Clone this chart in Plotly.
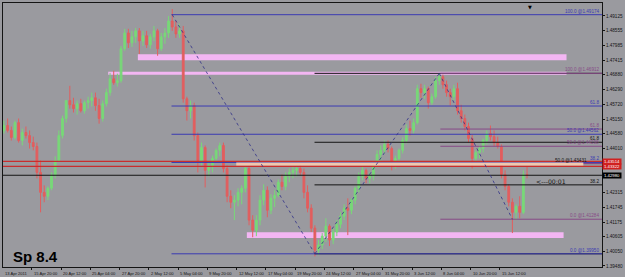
import plotly.graph_objects as go

# ---------------- data (H4 chart, sampled every 8 hours) ----------------
opens = [1.4471,1.4490,1.4471,1.4444,1.4501,1.4432,1.4463,1.4451,1.4424,1.4409,
         1.4309,1.4232,1.4217,1.4248,1.4298,1.4355,1.4451,1.4517,1.4586,1.4570,
         1.4555,1.4574,1.4547,1.4578,1.4586,1.4597,1.4567,1.4517,1.4574,1.4617,
         1.4670,1.4655,1.4663,1.4786,1.4847,1.4809,1.4832,1.4855,1.4816,1.4836,
         1.4801,1.4832,1.4855,1.4786,1.4832,1.4847,1.4893,1.4870,1.4843,1.4855,
         1.4593,1.4547,1.4567,1.4451,1.4355,1.4405,1.4317,1.4336,1.4363,1.4394,
         1.4413,1.4324,1.4217,1.4194,1.4202,1.4232,1.4248,1.4324,1.4125,1.4086,
         1.4125,1.4202,1.4240,1.4163,1.4209,1.4221,1.4271,1.4255,1.4294,1.4309,
         1.4317,1.4324,1.4309,1.4232,1.4171,1.4094,1.4009,1.4029,1.4063,1.4102,
         1.4048,1.4079,1.4109,1.4140,1.4171,1.4163,1.4202,1.4248,1.4294,1.4317,
         1.4286,1.4294,1.4340,1.4378,1.4394,1.4417,1.4401,1.4340,1.4363,1.4394,
         1.4432,1.4478,1.4471,1.4501,1.4632,1.4617,1.4632,1.4578,1.4601,1.4663,
         1.4678,1.4647,1.4617,1.4601,1.4632,1.4547,1.4517,1.4486,1.4440,1.4363,
         1.4386,1.4401,1.4432,1.4459,1.4447,1.4424,1.4409,1.4301,1.4255,1.4194,
         1.4155,1.4178,1.4155,1.4301]
highs = [1.4509,1.4517,1.4486,1.4509,1.4517,1.4478,1.4486,1.4471,1.4447,1.4424,
         1.4355,1.4259,1.4255,1.4309,1.4371,1.4471,1.4528,1.4586,1.4643,1.4597,
         1.4586,1.4593,1.4586,1.4601,1.4617,1.4617,1.4593,1.4586,1.4632,1.4693,
         1.4701,1.4690,1.4797,1.4863,1.4863,1.4855,1.4866,1.4866,1.4855,1.4855,
         1.4843,1.4874,1.4863,1.4847,1.4866,1.4912,1.4939,1.4893,1.4882,1.4874,
         1.4601,1.4586,1.4578,1.4463,1.4424,1.4413,1.4355,1.4374,1.4401,1.4424,
         1.4424,1.4336,1.4240,1.4221,1.4248,1.4259,1.4336,1.4336,1.4144,1.4144,
         1.4221,1.4263,1.4255,1.4225,1.4240,1.4282,1.4301,1.4309,1.4324,1.4332,
         1.4336,1.4340,1.4324,1.4259,1.4186,1.4105,1.4048,1.4075,1.4132,1.4109,
         1.4094,1.4125,1.4155,1.4186,1.4209,1.4209,1.4255,1.4309,1.4332,1.4324,
         1.4309,1.4355,1.4394,1.4413,1.4432,1.4432,1.4409,1.4374,1.4401,1.4444,
         1.4494,1.4509,1.4517,1.4647,1.4651,1.4647,1.4640,1.4613,1.4678,1.4693,
         1.4686,1.4663,1.4632,1.4647,1.4655,1.4570,1.4532,1.4501,1.4455,1.4394,
         1.4413,1.4440,1.4471,1.4490,1.4471,1.4447,1.4417,1.4317,1.4263,1.4209,
         1.4186,1.4217,1.4317,1.4332]
lows = [1.4459,1.4463,1.4432,1.4436,1.4424,1.4413,1.4440,1.4401,1.4394,1.4286,
        1.4155,1.4194,1.4202,1.4240,1.4286,1.4348,1.4440,1.4501,1.4555,1.4540,
        1.4532,1.4540,1.4536,1.4555,1.4563,1.4547,1.4497,1.4505,1.4563,1.4605,
        1.4647,1.4640,1.4655,1.4778,1.4789,1.4793,1.4809,1.4766,1.4797,1.4789,
        1.4786,1.4816,1.4759,1.4778,1.4805,1.4828,1.4855,1.4828,1.4828,1.4578,
        1.4509,1.4517,1.4432,1.4309,1.4336,1.4251,1.4294,1.4309,1.4348,1.4371,
        1.4309,1.4194,1.4171,1.4125,1.4178,1.4186,1.4232,1.4105,1.4059,1.4063,
        1.4105,1.4182,1.4136,1.4148,1.4175,1.4213,1.4240,1.4240,1.4271,1.4286,
        1.4294,1.4298,1.4209,1.4155,1.4079,1.3985,1.3990,1.4013,1.4040,1.4025,
        1.4032,1.4063,1.4094,1.4125,1.4067,1.4148,1.4186,1.4232,1.4278,1.4267,
        1.4267,1.4278,1.4328,1.4355,1.4382,1.4386,1.4317,1.4324,1.4348,1.4382,
        1.4421,1.4451,1.4459,1.4494,1.4597,1.4593,1.4555,1.4570,1.4593,1.4647,
        1.4632,1.4601,1.4567,1.4586,1.4532,1.4501,1.4471,1.4424,1.4324,1.4344,
        1.4363,1.4386,1.4417,1.4432,1.4409,1.4401,1.4286,1.4240,1.4178,1.4075,
        1.4125,1.4132,1.4148,1.4286]
closes = [1.4490,1.4471,1.4444,1.4501,1.4432,1.4463,1.4451,1.4424,1.4409,1.4309,
          1.4232,1.4217,1.4248,1.4298,1.4355,1.4451,1.4517,1.4586,1.4570,1.4555,
          1.4574,1.4547,1.4578,1.4586,1.4597,1.4567,1.4517,1.4574,1.4617,1.4670,
          1.4655,1.4663,1.4786,1.4847,1.4809,1.4832,1.4855,1.4816,1.4836,1.4801,
          1.4832,1.4855,1.4786,1.4832,1.4847,1.4893,1.4870,1.4843,1.4855,1.4593,
          1.4547,1.4567,1.4451,1.4355,1.4405,1.4317,1.4336,1.4363,1.4394,1.4413,
          1.4324,1.4217,1.4194,1.4202,1.4232,1.4248,1.4324,1.4125,1.4086,1.4125,
          1.4202,1.4240,1.4163,1.4209,1.4221,1.4271,1.4255,1.4294,1.4309,1.4317,
          1.4324,1.4309,1.4232,1.4171,1.4094,1.4009,1.4029,1.4063,1.4102,1.4048,
          1.4079,1.4109,1.4140,1.4171,1.4163,1.4202,1.4248,1.4294,1.4317,1.4286,
          1.4294,1.4340,1.4378,1.4394,1.4417,1.4401,1.4340,1.4363,1.4394,1.4432,
          1.4478,1.4471,1.4501,1.4632,1.4617,1.4632,1.4578,1.4601,1.4663,1.4678,
          1.4647,1.4617,1.4601,1.4632,1.4547,1.4517,1.4486,1.4440,1.4363,1.4386,
          1.4401,1.4432,1.4459,1.4447,1.4424,1.4409,1.4301,1.4255,1.4194,1.4155,
          1.4178,1.4155,1.4301,1.4298]

date_labels = ["13 Apr 2011", "15 Apr 20:00", "20 Apr 12:00", "25 Apr 04:00",
               "27 Apr 20:00", "2 May 12:00", "5 May 04:00", "9 May 20:00",
               "12 May 12:00", "17 May 04:00", "19 May 20:00", "24 May 12:00",
               "27 May 04:00", "31 May 20:00", "3 Jun 12:00", "8 Jun 04:00",
               "10 Jun 20:00", "15 Jun 12:00"]
date_bars = [-0.4, 7.6, 15.6, 23.6, 31.6, 39.6, 47.6, 55.6, 63.6, 71.6,
             79.6, 87.6, 95.6, 103.6, 111.6, 119.6, 127.6, 135.6]

price_ticks = [1.49125, 1.48555, 1.47985, 1.47415, 1.46880, 1.46290, 1.45720,
               1.45150, 1.44580, 1.44010, 1.42315, 1.41745,
               1.41175, 1.40605, 1.40050, 1.39480]

# Fibonacci retracements: (low, high, start bar)
fib_blue = (1.39950, 1.49174, 45.8)
fib_black = (1.39950, 1.46912, 84.9)
fib_purple = (1.41284, 1.46912, 119.3)
fib_levels = [0.0, 38.2, 50.0, 61.8, 100.0]

# horizontal red lines and rectangles (price zones)
red_levels = [1.43514, 1.43322]
zone_x0 = [36.6, 28.5, 66.4]
zone_x1 = [153.8, 153.8, 153.0]
zone_lo = [1.47414, 1.46857, 1.40555]
zone_hi = [1.47645, 1.46972, 1.40786]
band_x = (63.5, 158.4)
band_price = (1.43350, 1.43470)

# dotted trend lines (bar, price)
trend_pts = [(46.0, 1.49174), (85.0, 1.39950), (119.0, 1.46912), (139.0, 1.41284)]

# ---------------- figure ----------------
XMIN, XMAX = -0.27, 163.5
YMIN, YMAX = 1.39441, 1.49625
BG = "#9a9a9f"
BLUE = "#3a3ab2"
PURPLE = "#874a87"
BLACK = "#141414"
RED = "#c82d2d"
FONT = "Liberation Sans, Arial, sans-serif"

fig = go.Figure()
fig.add_trace(go.Candlestick(
    x=list(range(len(closes))), open=opens, high=highs, low=lows, close=closes,
    increasing=dict(line=dict(color="#78d878", width=1), fillcolor="#78d878"),
    decreasing=dict(line=dict(color="#e25e5e", width=1), fillcolor="#e25e5e"),
    whiskerwidth=0, showlegend=False, hoverinfo="skip"))

shapes = []
for x0, x1, lo, hi in zip(zone_x0, zone_x1, zone_lo, zone_hi):
    shapes.append(dict(type="rect", xref="x", yref="y", x0=x0, x1=x1, y0=lo, y1=hi,
                       fillcolor="#f3b6f3", line=dict(width=0), layer="below"))

def fib_lines(fib, color):
    lo, hi, start = fib
    out = []
    for lv in fib_levels:
        p = lo + (hi - lo) * lv / 100.0
        out.append(dict(type="line", xref="x", yref="y", x0=start, x1=XMAX, y0=p, y1=p,
                        line=dict(color=color, width=1)))
    return out

shapes += fib_lines(fib_black, BLACK)
shapes += fib_lines(fib_purple, PURPLE)
shapes += fib_lines(fib_blue, BLUE)
shapes.append(dict(type="rect", xref="x", yref="y", x0=band_x[0], x1=band_x[1],
                   y0=band_price[0], y1=band_price[1], fillcolor="#f0c8ae",
                   line=dict(width=0)))
for p in red_levels:
    shapes.append(dict(type="line", xref="paper", yref="y", x0=0, x1=1, y0=p, y1=p,
                       line=dict(color=RED, width=1.2)))
shapes.append(dict(type="line", xref="paper", yref="y", x0=0, x1=1,
                   y0=closes[-1], y1=closes[-1], line=dict(color=BLACK, width=1)))
for (xa, ya), (xb, yb) in zip(trend_pts[:-1], trend_pts[1:]):
    shapes.append(dict(type="line", xref="x", yref="y", x0=xa, x1=xb, y0=ya, y1=yb,
                       line=dict(color="#303088", width=0.8, dash="dot")))

ann = []
def lab(x, y, text, color, size=4.6, anchor="right"):
    ann.append(dict(x=x, y=y, xref="x", yref="y", text=text, showarrow=False,
                    xanchor=anchor, yanchor="bottom", yshift=-1,
                    font=dict(size=size, color=color, family=FONT)))

def fibp(fib, lv):
    lo, hi, _ = fib
    return lo + (hi - lo) * lv / 100.0

XR = 163.1
lab(XR, fibp(fib_blue, 100), "100.0 @%.5f" % fib_blue[1], BLUE)
lab(XR, fibp(fib_blue, 61.8), "61.8", BLUE)
lab(XR, fibp(fib_blue, 50), "50.0 @%.5f" % fibp(fib_blue, 50), BLUE)
lab(XR, fibp(fib_blue, 38.2), "38.2", BLUE)
lab(XR, fibp(fib_blue, 0), "0.0 @%.5f" % fib_blue[0], BLUE)
lab(XR, fibp(fib_purple, 100), "100.0 @%.5f" % fib_purple[1], PURPLE)
lab(XR, fibp(fib_purple, 61.8), "61.8", PURPLE)
lab(XR, fibp(fib_purple, 50), "50.0 @%.5f" % fibp(fib_purple, 50), PURPLE)
lab(XR, fibp(fib_purple, 0), "0.0 @%.5f" % fib_purple[0], PURPLE)
lab(XR, fibp(fib_black, 61.8), "61.8", BLACK)
lab(160.0, fibp(fib_black, 50), "50.0 @%.5f" % fibp(fib_black, 50), BLACK)
lab(XR, fibp(fib_black, 38.2), "38.2", BLACK)

ann.append(dict(x=144.8, y=1.42745, xref="x", yref="y", text="<---00:01", showarrow=False,
                xanchor="left", yanchor="middle",
                font=dict(size=6.2, color=BLACK, family="DejaVu Sans")))

# right-hand price boxes
for p, bgc in [(red_levels[0], "#d02020"), (red_levels[1], "#d02020"), (closes[-1], "#000000")]:
    ann.append(dict(x=1, y=p, xref="paper", yref="y", text="%.5f" % p, showarrow=False,
                    xanchor="left", yanchor="middle", bgcolor=bgc, borderpad=0,
                    width=18, height=4.6, font=dict(size=4.3, color="white", family=FONT)))

# date labels (left aligned at their tick)
for pos, txt in zip(date_bars, date_labels):
    px = max(0.0, (pos - XMIN) / (XMAX - XMIN))
    ann.append(dict(x=px, y=0, xref="paper", yref="paper", text=txt, showarrow=False,
                    xanchor="left", yanchor="top", xshift=0, yshift=-1.5,
                    font=dict(size=4.1, color=BLACK, family=FONT)))

ann.append(dict(x=0.0135, y=0.04, xref="paper", yref="paper", text="<b>Sp 8.4</b>",
                showarrow=False, xanchor="left", yanchor="middle",
                font=dict(size=15, color="black", family=FONT)))
ann.append(dict(x=143.7, y=1.0, xref="x", yref="paper", text="\u25bc", showarrow=False,
                xanchor="center", yanchor="top", yshift=1,
                font=dict(size=5, color="black", family="DejaVu Sans")))

fig.update_layout(
    width=625, height=277,
    margin=dict(l=2, r=19, t=2, b=10),
    paper_bgcolor=BG, plot_bgcolor=BG,
    shapes=shapes, annotations=ann, showlegend=False,
    xaxis=dict(range=[XMIN, XMAX], rangeslider=dict(visible=False),
               showgrid=False, zeroline=False, showticklabels=False,
               tickvals=date_bars, ticks="outside", ticklen=2, tickcolor=BLACK,
               showline=True, linecolor=BLACK, linewidth=1, mirror=True),
    yaxis=dict(range=[YMIN, YMAX], side="right", showgrid=False, zeroline=False,
               tickvals=price_ticks, ticktext=["%.5f" % v for v in price_ticks],
               ticks="outside", ticklen=2, tickcolor=BLACK,
               tickfont=dict(size=4.6, color=BLACK, family=FONT),
               showline=True, linecolor=BLACK, linewidth=1, mirror=True),
)

fig.write_html("out.html")
